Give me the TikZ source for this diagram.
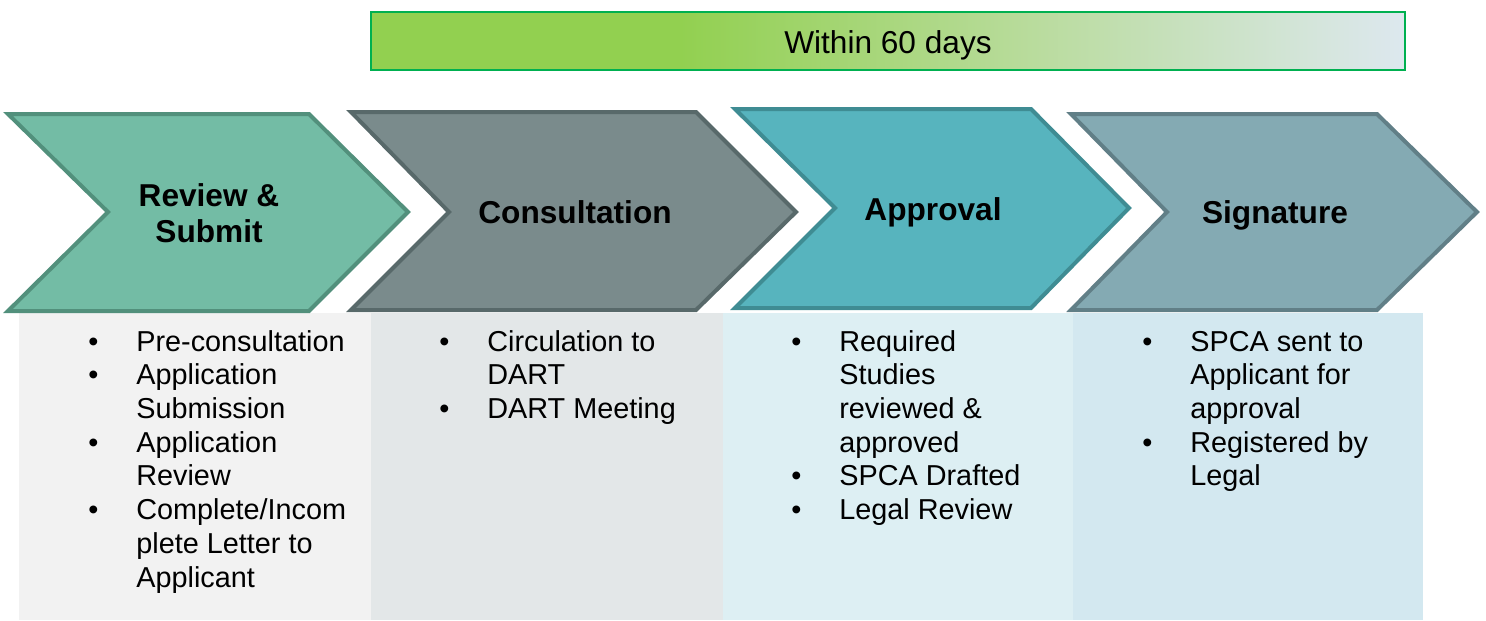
\documentclass[tikz,border=0pt]{standalone}
\usepackage{fontspec}
\setmainfont{Liberation Sans}
\usetikzlibrary{calc}

\definecolor{barGreen}{HTML}{92D050}
\definecolor{barMid}{HTML}{BADC9F}
\definecolor{barLight}{HTML}{DDE8EF}
\definecolor{barLine}{HTML}{00B050}
\definecolor{chevAFill}{HTML}{73BCA5}
\definecolor{chevALine}{HTML}{52907C}
\definecolor{chevBFill}{HTML}{7A8B8C}
\definecolor{chevBLine}{HTML}{58696A}
\definecolor{chevCFill}{HTML}{57B4BE}
\definecolor{chevCLine}{HTML}{3F8C93}
\definecolor{chevDFill}{HTML}{84AAB3}
\definecolor{chevDLine}{HTML}{617F87}
\definecolor{boxA}{HTML}{F2F2F2}
\definecolor{boxB}{HTML}{E3E7E8}
\definecolor{boxC}{HTML}{DDEFF3}
\definecolor{boxD}{HTML}{D3E8F0}

\tikzset{
  chevron/.style={line width=.08cm, line join=miter},
  headtext/.style={anchor=base, align=center, inner sep=0pt, font=\fontsize{18}{20}\selectfont\bfseries},
  listtext/.style={anchor=base west, inner sep=0pt, font=\fontsize{16.4}{19.2}\selectfont},
}

\begin{document}
\begin{tikzpicture}
\useasboundingbox (0,0) rectangle (29.72cm,-12.4cm);

% top bar
\fill [barGreen] (7.42cm,-.24cm) rectangle (13.62cm,-1.4cm);
\shade [left color=barGreen, right color=barMid] (13.6cm,-.24cm) rectangle (20.86cm,-1.4cm);
\shade [left color=barMid, right color=barLight] (20.84cm,-.24cm) rectangle (28.1cm,-1.4cm);
\draw [barLine, line width=.04cm] (7.42cm,-.24cm) rectangle (28.1cm,-1.4cm);
\node (within) at (17.76cm,-1.06cm) [anchor=base, inner sep=0pt, font=\fontsize{18}{20}\selectfont] {Within 60 days};

% boxes below
\fill [boxA] (.38cm,-6.26cm) rectangle (7.42cm,-12.4cm);
\fill [boxB] (7.42cm,-6.26cm) rectangle (14.46cm,-12.4cm);
\fill [boxC] (14.46cm,-6.26cm) rectangle (21.46cm,-12.4cm);
\fill [boxD] (21.46cm,-6.26cm) rectangle (28.46cm,-12.4cm);

% chevrons
\draw [chevron, fill=chevAFill, draw=chevALine] (.16cm,-2.28cm) -- (6.18cm,-2.28cm) -- (8.16cm,-4.24cm) -- (6.18cm,-6.22cm) -- (.16cm,-6.22cm) -- (2.16cm,-4.24cm) -- cycle;
\draw [chevron, fill=chevBFill, draw=chevBLine] (7.02cm,-2.24cm) -- (13.92cm,-2.24cm) -- (15.92cm,-4.24cm) -- (13.92cm,-6.2cm) -- (7.02cm,-6.2cm) -- (8.98cm,-4.24cm) -- cycle;
\draw [chevron, fill=chevCFill, draw=chevCLine] (14.7cm,-2.18cm) -- (20.62cm,-2.18cm) -- (22.58cm,-4.16cm) -- (20.62cm,-6.16cm) -- (14.7cm,-6.16cm) -- (16.7cm,-4.16cm) -- cycle;
\draw [chevron, fill=chevDFill, draw=chevDLine] (21.42cm,-2.28cm) -- (27.54cm,-2.28cm) -- (29.54cm,-4.24cm) -- (27.54cm,-6.2cm) -- (21.42cm,-6.2cm) -- (23.34cm,-4.24cm) -- cycle;

\node (review) at (4.18cm,-4.84cm) [headtext] {Review \&\\Submit};
\node (consult) at (11.5cm,-4.46cm) [headtext] {Consultation};
\node (approval) at (18.66cm,-4.4cm) [headtext] {Approval};
\node (signature) at (25.5cm,-4.46cm) [headtext] {Signature};

% bullet lists
\node (review-list) at (1.76cm,-7.02cm) [listtext] {\begin{tabular}[t]{@{}p{.96cm}@{}l@{}}
\textbullet & Pre-consultation\\
\textbullet & Application\\
 & Submission\\
\textbullet & Application\\
 & Review\\
\textbullet & Complete/Incom\\
 & plete Letter to\\
 & Applicant
\end{tabular}};

\node (consult-list) at (8.78cm,-7.02cm) [listtext] {\begin{tabular}[t]{@{}p{.96cm}@{}l@{}}
\textbullet & Circulation to\\
 & DART\\
\textbullet & DART Meeting
\end{tabular}};

\node (approval-list) at (15.82cm,-7.02cm) [listtext] {\begin{tabular}[t]{@{}p{.96cm}@{}l@{}}
\textbullet & Required\\
 & Studies\\
 & reviewed \&\\
 & approved\\
\textbullet & SPCA Drafted\\
\textbullet & Legal Review
\end{tabular}};

\node (signature-list) at (22.84cm,-7.02cm) [listtext] {\begin{tabular}[t]{@{}p{.96cm}@{}l@{}}
\textbullet & SPCA sent to\\
 & Applicant for\\
 & approval\\
\textbullet & Registered by\\
 & Legal
\end{tabular}};

\end{tikzpicture}
\end{document}
